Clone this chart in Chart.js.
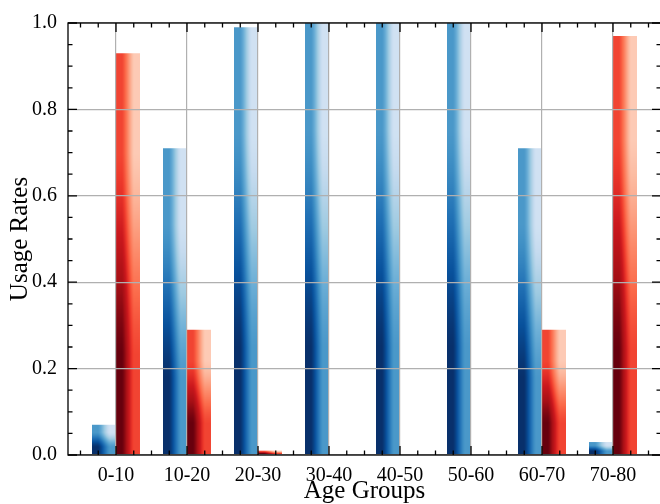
<!DOCTYPE html>
<html>
<head>
<meta charset="utf-8">
<script src="https://cdn.jsdelivr.net/npm/chart.js@4.4.0/dist/chart.umd.min.js"></script>
<style>
  html, body { margin: 0; padding: 0; background: #fff; }
  #wrap { width: 660px; height: 504px; overflow: hidden; position: relative; }
  #chart { position: absolute; left: 0; top: 0; }
</style>
</head>
<body>
<div id="wrap"><canvas id="chart" width="662" height="520"></canvas></div>
<script>
const ageGroups = ["0-10", "10-20", "20-30", "30-40", "40-50", "50-60", "60-70", "70-80"];
const blueRates = [0.07, 0.71, 0.99, 1.0, 1.0, 1.0, 0.71, 0.03];
const redRates = [0.93, 0.29, 0.01, 0, 0, 0, 0.29, 0.97];
const yTicks = [0, 0.2, 0.4, 0.6, 0.8, 1.0];

// colorbrewer stops (light -> dark)
const BLUES = ["#f7fbff", "#deebf7", "#c6dbef", "#9ecae1", "#6baed6", "#4292c6", "#2171b5", "#08519c", "#08306b"];
const REDS = ["#fff5f0", "#fee0d2", "#fcbba1", "#fc9272", "#fb6a4a", "#ef3b2c", "#cb181d", "#a50f15", "#67000d"];

const FONT = "'Liberation Serif', 'Times New Roman', serif";

function hexRgb(h) {
  return [parseInt(h.slice(1, 3), 16), parseInt(h.slice(3, 5), 16), parseInt(h.slice(5, 7), 16)];
}

function sampleMap(stops, t) {
  t = Math.min(1, Math.max(0, t));
  const f = t * (stops.length - 1);
  const i = Math.min(stops.length - 2, Math.floor(f));
  const k = f - i;
  const a = hexRgb(stops[i]), b = hexRgb(stops[i + 1]);
  return [0, 1, 2].map(c => Math.round(a[c] + (b[c] - a[c]) * k));
}

// 2x2 image stretched over the bar, cubic between pixel centres
function smooth(u) {
  const t = Math.min(1, Math.max(0, (u - 0.25) / 0.5));
  return 0.5 * (t + 3 * t * t - 2 * t * t * t);
}

function barPattern(ctx, left, top, w, h, stops) {
  const ox = Math.floor(left) - 1, oy = Math.floor(top) - 1;
  const W = Math.ceil(left + w) - ox + 2, H = Math.ceil(top + h) - oy + 2;
  const off = document.createElement("canvas");
  off.width = W;
  off.height = H;
  const octx = off.getContext("2d");
  const img = octx.createImageData(W, H);
  for (let j = 0; j < H; j++) {
    const v = 1 - (oy + j + 0.5 - top) / h;
    const sv = smooth(v);
    for (let i = 0; i < W; i++) {
      const u = (ox + i + 0.5 - left) / w;
      const val = 0.8 * (0.5 * smooth(u) + 0.5 * sv);
      const c = sampleMap(stops, 1 - val);
      const p = (j * W + i) * 4;
      img.data[p] = c[0];
      img.data[p + 1] = c[1];
      img.data[p + 2] = c[2];
      img.data[p + 3] = 255;
    }
  }
  octx.putImageData(img, 0, 0);
  const pat = ctx.createPattern(off, "no-repeat");
  pat.setTransform(new DOMMatrix([1, 0, 0, 1, ox, oy]));
  return pat;
}

const gradientBars = {
  id: "gradientBars",
  beforeDatasetsDraw(chart) {
    chart.data.datasets.forEach((ds, di) => {
      chart.getDatasetMeta(di).data.forEach(bar => {
        const { x, y, base, width } = bar.getProps(["x", "y", "base", "width"], true);
        const top = Math.min(y, base), h = Math.abs(base - y);
        if (h < 0.5) return;
        bar.options.backgroundColor = barPattern(chart.ctx, x - width / 2, top, width, h, ds.cmap);
      });
    });
  }
};

// frame + inward major/minor ticks on all four sides
const frameTicks = {
  id: "frameTicks",
  afterDraw(chart) {
    const { ctx, chartArea: a, scales: { x, y } } = chart;
    ctx.save();
    ctx.strokeStyle = "#000";
    ctx.lineWidth = 1.3;
    ctx.strokeRect(a.left, a.top, a.right - a.left, a.bottom - a.top);
    ctx.beginPath();
    for (let k = Math.ceil(x.min * 4); k <= Math.floor(x.max * 4); k++) {
      const px = x.getPixelForValue(k / 4);
      const len = k % 4 === 0 ? 9 : 4.5;
      ctx.moveTo(px, a.bottom); ctx.lineTo(px, a.bottom - len);
      ctx.moveTo(px, a.top); ctx.lineTo(px, a.top + len);
    }
    for (let k = 0; k <= 20; k++) {
      const py = y.getPixelForValue(k / 20);
      const len = k % 4 === 0 ? 9 : 4.5;
      ctx.moveTo(a.left, py); ctx.lineTo(a.left + len, py);
      ctx.moveTo(a.right, py); ctx.lineTo(a.right - len, py);
    }
    ctx.stroke();
    ctx.restore();
  }
};

new Chart(document.getElementById("chart"), {
  type: "bar",
  data: {
    datasets: [
      {
        label: "Group A",
        data: blueRates.map((v, i) => ({ x: i, y: v })),
        cmap: BLUES,
        backgroundColor: () => "#2171b5",
        borderWidth: 0,
        categoryPercentage: 0.676,
        barPercentage: 1,
      },
      {
        label: "Group B",
        data: redRates.map((v, i) => ({ x: i, y: v })),
        cmap: REDS,
        backgroundColor: () => "#cb181d",
        borderWidth: 0,
        categoryPercentage: 0.676,
        barPercentage: 1,
      },
    ],
  },
  options: {
    responsive: false,
    animation: false,
    events: [],
    layout: { padding: { top: 17.5, right: 1, left: 0, bottom: 0 } },
    plugins: {
      legend: { display: false },
      tooltip: { enabled: false },
    },
    scales: {
      x: {
        type: "linear",
        offset: false,
        min: -0.676,
        max: 7.676,
        afterBuildTicks: (ax) => { ax.ticks = ageGroups.map((_, i) => ({ value: i })); },
        afterFit: (ax) => { ax.height = 65; },
        grid: { color: "#b0b0b0", lineWidth: 1.2, drawTicks: false, offset: false, z: 1 },
        border: { display: false },
        ticks: {
          callback: (v) => ageGroups[v],
          font: { family: FONT, size: 20 },
          color: "#000",
          padding: 9,
          maxRotation: 0,
          autoSkip: false,
        },
        title: {
          display: true,
          text: "Age Groups",
          font: { family: FONT, size: 25, lineHeight: 1 },
          color: "#000",
          padding: { top: 0, bottom: 16 },
        },
      },
      y: {
        min: 0,
        max: 1,
        afterBuildTicks: (ax) => { ax.ticks = yTicks.map((v) => ({ value: v })); },
        afterFit: (ax) => { ax.width = 68; },
        grid: { color: "#b0b0b0", lineWidth: 1.2, drawTicks: false, z: 1 },
        border: { display: false },
        ticks: {
          callback: (v) => v.toFixed(1),
          font: { family: FONT, size: 20 },
          color: "#000",
          padding: 11,
        },
        title: {
          display: true,
          text: "Usage Rates",
          font: { family: FONT, size: 25, lineHeight: 1 },
          color: "#000",
          padding: { top: 7.5, bottom: 0 },
        },
      },
    },
  },
  plugins: [gradientBars, frameTicks],
});
</script>
</body>
</html>
